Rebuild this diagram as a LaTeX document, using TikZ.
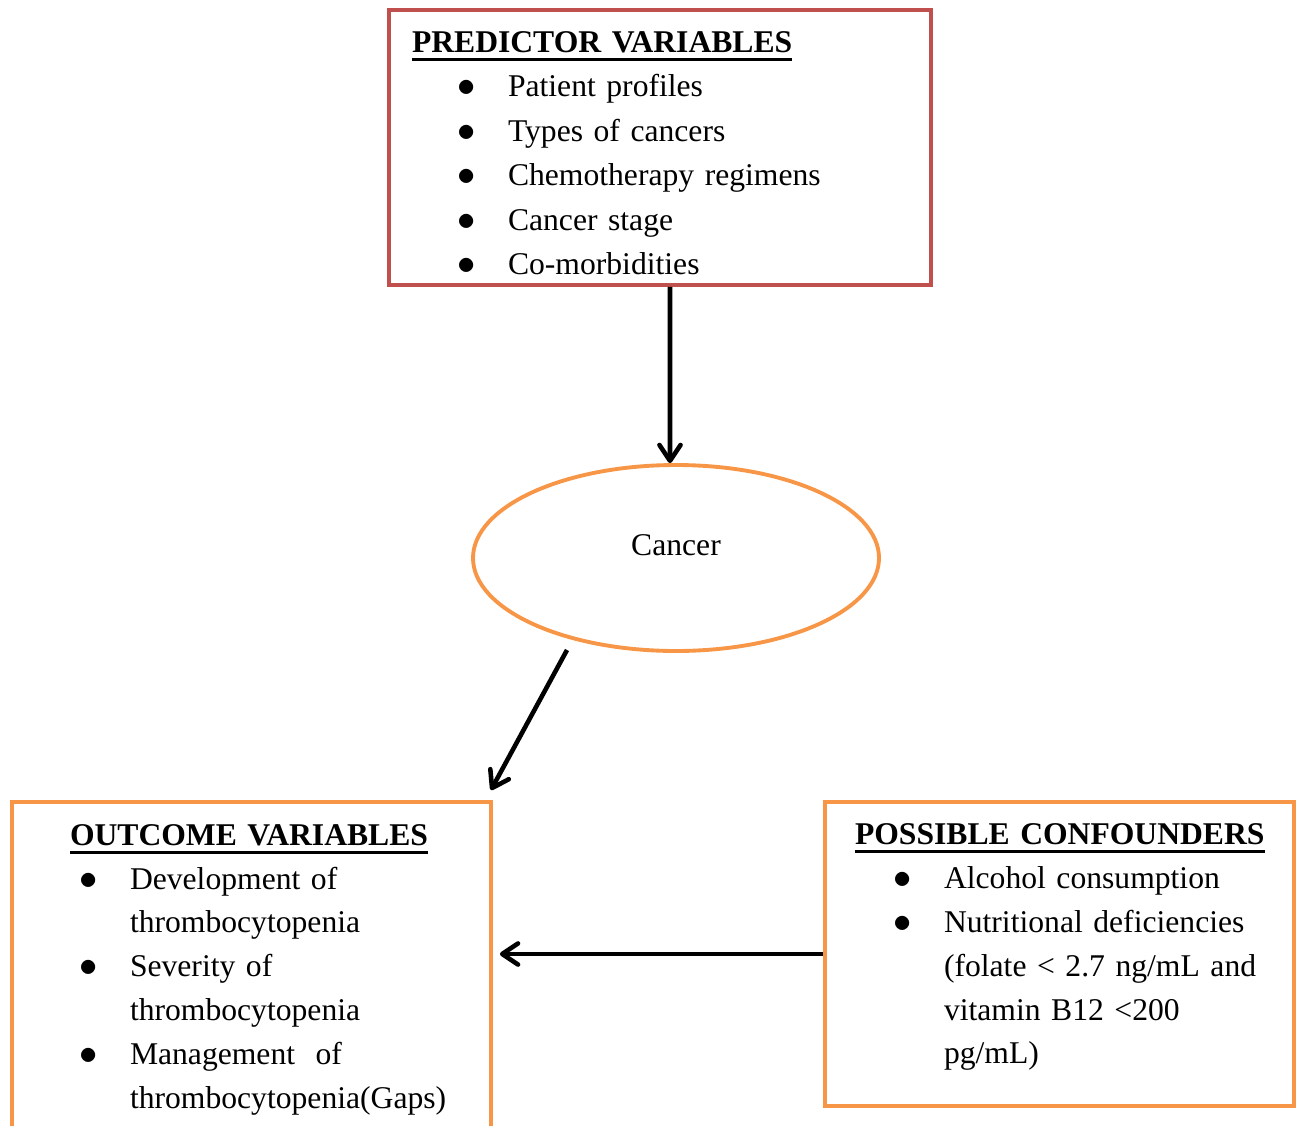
\documentclass[tikz,border=0pt]{standalone}
\usepackage{fontspec}
\setmainfont{Liberation Serif}
\usetikzlibrary{arrows.meta,shapes.geometric}
\definecolor{boxred}{HTML}{C0504D}
\definecolor{boxorange}{HTML}{F79646}
% bold heading with a thick underline
\newcommand{\heading}[1]{\setbox0\hbox{\textbf{#1}}\rlap{\rule[-0.17cm]{\wd0}{0.06cm}}\box0}
% indented bullet
\newcommand{\bitem}[1]{\hspace*{#1}\makebox[1.02cm][l]{\fontsize{21}{21}\selectfont$\bullet$}}
\begin{document}
\begin{tikzpicture}[
  box/.style={draw, line width=2.2pt, align=left, inner xsep=0.2cm, inner ysep=0.1cm,
    font=\fontsize{18}{24.94}\selectfont},
  arr/.style={line width=2.6pt, -{Straight Barb[length=9pt,width=12pt,round]}}
]
\useasboundingbox (0,0) rectangle (26.04,-22.52);
\clip (0,0) rectangle (26.04,-22.52);

\node[box, draw=boxred, minimum width=10.84cm, minimum height=5.5cm,
  font=\fontsize{18}{25.3}\selectfont,
  text width=10.44cm, text height=0.64cm] (pred) at (13.2,-2.95) {%
\hspace*{0.26cm}\heading{PREDICTOR VARIABLES}\\
\bitem{1.16cm}Patient profiles\\
\bitem{1.16cm}Types of cancers\\
\bitem{1.16cm}Chemotherapy regimens\\
\bitem{1.16cm}Cancer stage\\
\bitem{1.16cm}Co-morbidities};

\node[ellipse, draw=boxorange, line width=2.2pt, minimum width=8.12cm, minimum height=3.72cm,
  inner sep=0pt, font=\fontsize{18}{24.94}\selectfont,
  text height=0.44cm, text depth=0.56cm] (cancer) at (13.52,-11.16) {Cancer};

\node[box, draw=boxorange, minimum width=9.58cm, minimum height=6.71cm,
  text width=9.18cm] (outcome) at (5.03,-19.395) {%
\hspace*{0.96cm}\heading{OUTCOME VARIABLES}\\
\bitem{1.14cm}Development of\\
\hspace*{2.16cm}thrombocytopenia\\
\bitem{1.14cm}Severity of\\
\hspace*{2.16cm}thrombocytopenia\\
\bitem{1.14cm}Management\hspace{0.2cm} of\\
\hspace*{2.16cm}thrombocytopenia(Gaps)};

\node[box, draw=boxorange, minimum width=9.38cm, minimum height=6.08cm,
  text width=8.98cm, text depth=4.79cm] (confound) at (21.19,-19.08) {%
\hspace*{0.4cm}\heading{POSSIBLE CONFOUNDERS}\\
\bitem{1.16cm}Alcohol consumption\\
\bitem{1.16cm}Nutritional deficiencies\\
\hspace*{2.18cm}(folate < 2.7 ng/mL and\\
\hspace*{2.18cm}vitamin B12 <200\\
\hspace*{2.18cm}pg/mL)};

\draw[arr] ([xshift=0.2cm]pred.south) -- ([xshift=-0.12cm]cancer.north);
\draw[arr] ([shift={(-2.18,-1.84)}]cancer.center) -- ([shift={(-0.04,0.2)}]outcome.north east);
\draw[arr, shorten >=0.14cm] (confound.west) -- (confound.west -| outcome.east);
\end{tikzpicture}
\end{document}
